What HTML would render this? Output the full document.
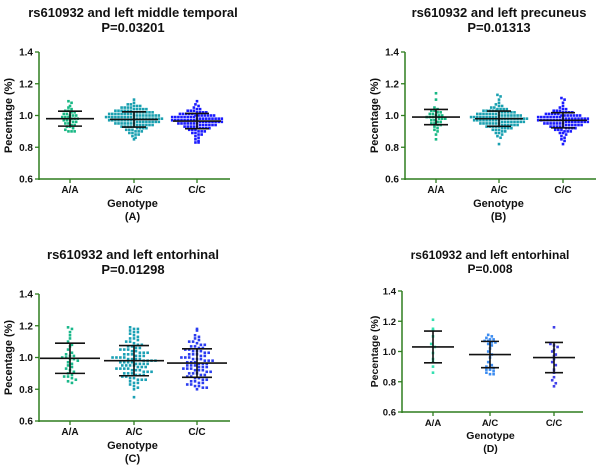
<!DOCTYPE html>
<html><head><meta charset="utf-8">
<style>
html,body{margin:0;padding:0;background:#fff;}
svg{display:block;font-family:"Liberation Sans",Arial,sans-serif;}
</style></head>
<body>
<svg id="chart" width="600" height="467" viewBox="0 0 600 467" xmlns="http://www.w3.org/2000/svg"></svg>
<script>
const categories = ["A/A","A/C","C/C"];
const yTicks = [0.6,0.8,1.0,1.2,1.4];
const yTickLabels = ["0.6","0.8","1.0","1.2","1.4"];
const titles = ["rs610932 and left middle temporal","rs610932 and left precuneus","rs610932 and left entorhinal","rs610932 and left entorhinal"];
const pValues = ["P=0.03201","P=0.01313","P=0.01298","P=0.008"];
const panelLetters = ["(A)","(B)","(C)","(D)"];

// Panel A values
const aAA = [1.09,1.08,1.06,1.05,1.04,1.03,1.03,1.02,1.02,1.01,1.01,1.00,1.00,1.00,0.99,0.99,0.99,0.98,0.98,0.98,0.97,0.97,0.97,0.96,0.96,0.95,0.95,0.94,0.94,0.93,0.93,0.92,0.91,0.90,0.90,0.90];
const aAC = [1.10,1.08,1.07,1.07,1.06,1.06,1.06,1.05,1.05,1.05,1.05,1.04,1.04,1.04,1.04,1.04,1.03,1.03,1.03,1.03,1.03,1.03,1.02,1.02,1.02,1.02,1.02,1.02,1.02,1.01,1.01,1.01,1.01,1.01,1.01,1.01,1.01,1.00,1.00,1.00,1.00,1.00,1.00,1.00,1.00,1.00,0.99,0.99,0.99,0.99,0.99,0.99,0.99,0.99,0.99,0.98,0.98,0.98,0.98,0.98,0.98,0.98,0.98,0.98,0.98,0.97,0.97,0.97,0.97,0.97,0.97,0.97,0.97,0.97,0.96,0.96,0.96,0.96,0.96,0.96,0.96,0.96,0.95,0.95,0.95,0.95,0.95,0.95,0.95,0.94,0.94,0.94,0.94,0.94,0.94,0.93,0.93,0.93,0.93,0.93,0.92,0.92,0.92,0.92,0.91,0.91,0.91,0.90,0.90,0.90,0.89,0.89,0.88,0.88,0.87,0.86,0.85];
const aCC = [1.09,1.07,1.06,1.05,1.04,1.04,1.03,1.03,1.03,1.02,1.02,1.02,1.02,1.01,1.01,1.01,1.01,1.01,1.00,1.00,1.00,1.00,1.00,1.00,1.00,0.99,0.99,0.99,0.99,0.99,0.99,0.99,0.99,0.98,0.98,0.98,0.98,0.98,0.98,0.98,0.98,0.98,0.97,0.97,0.97,0.97,0.97,0.97,0.97,0.97,0.97,0.96,0.96,0.96,0.96,0.96,0.96,0.96,0.96,0.95,0.95,0.95,0.95,0.95,0.95,0.95,0.94,0.94,0.94,0.94,0.94,0.94,0.93,0.93,0.93,0.93,0.93,0.92,0.92,0.92,0.92,0.91,0.91,0.91,0.90,0.90,0.90,0.89,0.89,0.88,0.88,0.87,0.86,0.85,0.84,0.83,0.83];
const aMean = [0.98,0.975,0.965];
const aSD = [0.047,0.048,0.048];

// Panel B values
const bAA = [1.14,1.10,1.05,1.04,1.03,1.03,1.02,1.02,1.01,1.01,1.00,1.00,1.00,0.99,0.99,0.99,0.99,0.98,0.98,0.98,0.97,0.97,0.96,0.96,0.95,0.95,0.94,0.94,0.93,0.92,0.91,0.90,0.88,0.85];
const bAC = [1.13,1.12,1.10,1.08,1.07,1.06,1.06,1.05,1.05,1.04,1.04,1.04,1.04,1.03,1.03,1.03,1.03,1.03,1.02,1.02,1.02,1.02,1.02,1.02,1.01,1.01,1.01,1.01,1.01,1.01,1.01,1.00,1.00,1.00,1.00,1.00,1.00,1.00,1.00,0.99,0.99,0.99,0.99,0.99,0.99,0.99,0.99,0.99,0.98,0.98,0.98,0.98,0.98,0.98,0.98,0.98,0.98,0.98,0.97,0.97,0.97,0.97,0.97,0.97,0.97,0.97,0.97,0.96,0.96,0.96,0.96,0.96,0.96,0.96,0.96,0.95,0.95,0.95,0.95,0.95,0.95,0.95,0.94,0.94,0.94,0.94,0.94,0.94,0.93,0.93,0.93,0.93,0.93,0.92,0.92,0.92,0.92,0.91,0.91,0.91,0.90,0.90,0.89,0.89,0.88,0.87,0.86,0.82];
const bCC = [1.11,1.10,1.08,1.06,1.05,1.04,1.04,1.03,1.03,1.03,1.02,1.02,1.02,1.02,1.01,1.01,1.01,1.01,1.01,1.00,1.00,1.00,1.00,1.00,1.00,1.00,0.99,0.99,0.99,0.99,0.99,0.99,0.99,0.99,0.98,0.98,0.98,0.98,0.98,0.98,0.98,0.98,0.98,0.97,0.97,0.97,0.97,0.97,0.97,0.97,0.97,0.97,0.96,0.96,0.96,0.96,0.96,0.96,0.96,0.96,0.95,0.95,0.95,0.95,0.95,0.95,0.95,0.94,0.94,0.94,0.94,0.94,0.94,0.93,0.93,0.93,0.93,0.93,0.92,0.92,0.92,0.92,0.91,0.91,0.91,0.90,0.90,0.90,0.89,0.89,0.88,0.87,0.86,0.85,0.84,0.82];
const bMean = [0.99,0.98,0.97];
const bSD = [0.048,0.048,0.048];

// Panel C values
const cAA = [1.19,1.18,1.16,1.14,1.12,1.10,1.08,1.07,1.05,1.03,1.02,1.01,1.01,1.00,1.00,0.99,0.99,0.98,0.97,0.96,0.95,0.94,0.93,0.92,0.91,0.90,0.89,0.88,0.88,0.87,0.86,0.85,0.84];
const cAC = [1.19,1.18,1.18,1.17,1.16,1.16,1.15,1.14,1.13,1.12,1.12,1.11,1.10,1.10,1.09,1.08,1.08,1.07,1.07,1.06,1.06,1.05,1.05,1.05,1.04,1.04,1.03,1.03,1.03,1.02,1.02,1.02,1.01,1.01,1.01,1.00,1.00,1.00,1.00,0.99,0.99,0.99,0.99,0.98,0.98,0.98,0.98,0.97,0.97,0.97,0.97,0.96,0.96,0.96,0.96,0.95,0.95,0.95,0.95,0.94,0.94,0.94,0.93,0.93,0.93,0.93,0.92,0.92,0.92,0.91,0.91,0.91,0.90,0.90,0.90,0.89,0.89,0.89,0.88,0.88,0.87,0.87,0.86,0.86,0.86,0.85,0.84,0.84,0.83,0.82,0.81,0.80,0.75];
const cCC = [1.18,1.17,1.14,1.13,1.12,1.11,1.10,1.10,1.09,1.08,1.08,1.07,1.07,1.06,1.06,1.05,1.05,1.04,1.04,1.04,1.03,1.03,1.02,1.02,1.02,1.01,1.01,1.00,1.00,1.00,0.99,0.99,0.99,0.98,0.98,0.98,0.97,0.97,0.97,0.96,0.96,0.96,0.95,0.95,0.95,0.94,0.94,0.94,0.93,0.93,0.93,0.92,0.92,0.92,0.91,0.91,0.90,0.90,0.90,0.89,0.89,0.88,0.88,0.87,0.87,0.86,0.86,0.85,0.85,0.84,0.84,0.83,0.83,0.82,0.82,0.81,0.81,0.80];
const cMean = [0.995,0.98,0.965];
const cSD = [0.095,0.095,0.09];

// Panel D values
const dAA = [1.21,1.15,1.14,1.10,1.05,1.03,0.99,0.95,0.93,0.90,0.86];
const dAC = [1.11,1.10,1.09,1.08,1.08,1.07,1.07,1.06,1.06,1.05,1.04,1.02,1.00,0.98,0.96,0.93,0.91,0.90,0.89,0.89,0.88,0.88,0.87,0.86,0.85,0.85];
const dCC = [1.16,1.05,1.04,1.03,1.01,1.00,0.98,0.97,0.95,0.93,0.91,0.88,0.86,0.83,0.81,0.79,0.77];
const dMean = [1.03,0.98,0.96];
const dSD = [0.105,0.087,0.1];

const NS = "http://www.w3.org/2000/svg";
const svg = document.getElementById("chart");
function mk(tag, attrs, parent){
  const e = document.createElementNS(NS, tag);
  for (const k in attrs) e.setAttribute(k, attrs[k]);
  (parent||svg).appendChild(e);
  return e;
}

const panels = [
  {ax:39, ax2:230, top:52, bot:179, cx:[70,134,197], titleX:133, titleY:17, yTitleX:12, data:[aAA,aAC,aCC], mean:aMean, sd:aSD, colors:["#17b884","#1aa0b0","#1a1aff"], small:false, gap:3.1, hw:24, ew:12},
  {ax:405, ax2:596, top:52, bot:179, cx:[436,499,563], titleX:499, titleY:17, yTitleX:378, data:[bAA,bAC,bCC], mean:bMean, sd:bSD, colors:["#17b884","#1aa0b0","#1a1aff"], small:false, gap:3.1, hw:24, ew:12},
  {ax:39, ax2:230, top:294, bot:421, cx:[70,134,197], titleX:133, titleY:259, yTitleX:12, data:[cAA,cAC,cCC], mean:cMean, sd:cSD, colors:["#1ab88a","#1aa0b4","#2a3cf0"], small:false, gap:3.9, hw:30, ew:15},
  {ax:402, ax2:583, top:291, bot:412, cx:[433,490,554], titleX:490, titleY:259, yTitleX:378, data:[dAA,dAC,dCC], mean:dMean, sd:dSD, colors:["#33e0b0","#3c8cf0","#4040e8"], small:true, gap:3.6, hw:21, ew:9}
];

panels.forEach((p, pi) => {
  const g = mk("g", {});
  
  
  const y = v => p.bot - (v - 0.6) / 0.8 * (p.bot - p.top);
  const tfs = p.small ? 12 : 13;
  const t1 = mk("text", {x:p.titleX, y:p.titleY, "text-anchor":"middle", "font-size":tfs, "font-weight":"bold", fill:"#111"}, g);
  t1.textContent = titles[pi];
  
  
  const t2 = mk("text", {x:p.titleX, y:p.titleY + (p.small?14:15), "text-anchor":"middle", "font-size":tfs, "font-weight":"bold", fill:"#111"}, g);
  t2.textContent = pValues[pi];
  
  

  const axc = "#2f7d1f";
  const ya = mk("line", {x1:p.ax, y1:p.top, x2:p.ax, y2:p.bot+1, stroke:axc, "stroke-width":1.5}, g);
  
  
  const xa = mk("line", {x1:p.ax, y1:p.bot, x2:p.ax2, y2:p.bot, stroke:axc, "stroke-width":1.5}, g);
  
  
  const lfs = p.small ? 9.5 : 10;
  yTicks.forEach((v, i) => {
    mk("line", {x1:p.ax-4, y1:y(v), x2:p.ax, y2:y(v), stroke:axc, "stroke-width":1.3}, g);
    const tl = mk("text", {x:p.ax-6, y:y(v)+3.5, "text-anchor":"end", "font-size":lfs, "font-weight":"bold", fill:"#111"}, g);
    tl.textContent = yTickLabels[i];
    
    
  });
  categories.forEach((c, i) => {
    mk("line", {x1:p.cx[i], y1:p.bot, x2:p.cx[i], y2:p.bot+4, stroke:axc, "stroke-width":1.3}, g);
    const cl = mk("text", {x:p.cx[i], y:p.bot+14, "text-anchor":"middle", "font-size":lfs, "font-weight":"bold", fill:"#111"}, g);
    cl.textContent = c;
    
    
  });
  const midX = (p.ax + p.ax2) / 2 - 2;
  const xt = mk("text", {x:midX, y:p.bot+(p.small?27:28), "text-anchor":"middle", "font-size":p.small?10.5:11, "font-weight":"bold", fill:"#111"}, g);
  xt.textContent = "Genotype";
  
  
  const lt = mk("text", {x:midX, y:p.bot+(p.small?40:41), "text-anchor":"middle", "font-size":p.small?10.5:11, "font-weight":"bold", fill:"#111"}, g);
  lt.textContent = panelLetters[pi];
  
  
  const ymid = (p.top + p.bot) / 2;
  const yt = mk("text", {x:p.yTitleX, y:ymid, "text-anchor":"middle", "font-size":p.small?10.5:11, "font-weight":"bold", fill:"#111", transform:`rotate(-90 ${p.yTitleX} ${ymid})`}, g);
  yt.textContent = "Pecentage (%)";
  
  

  p.data.forEach((vals, gi) => {
    const bins = {};
    vals.forEach(v => {
      const b = Math.round(y(v) / p.gap);
      bins[b] = bins[b] || [];
      bins[b].push(v);
    });
    Object.keys(bins).forEach(b => {
      bins[b].forEach((v, k) => {
        const n = bins[b].length;
        const off = (k - (n - 1) / 2) * p.gap;
        const dot = mk("rect", {x:p.cx[gi] + off - 1.3, y:y(v) - 1.3, width:2.6, height:2.6, fill:p.colors[gi]}, g);
        
        
      });
    });
    const m = p.mean[gi], s = p.sd[gi];
    const ml = mk("line", {x1:p.cx[gi]-p.hw, y1:y(m), x2:p.cx[gi]+p.hw, y2:y(m), stroke:"#111", "stroke-width":1.6}, g);
    
    
    const vl = mk("line", {x1:p.cx[gi], y1:y(m+s), x2:p.cx[gi], y2:y(m-s), stroke:"#111", "stroke-width":1.6}, g);
    
    
    [m+s, m-s].forEach(v => {
      const cap = mk("line", {x1:p.cx[gi]-p.ew, y1:y(v), x2:p.cx[gi]+p.ew, y2:y(v), stroke:"#111", "stroke-width":1.6}, g);
      
      
    });
  });
});
</script>
</body></html>
